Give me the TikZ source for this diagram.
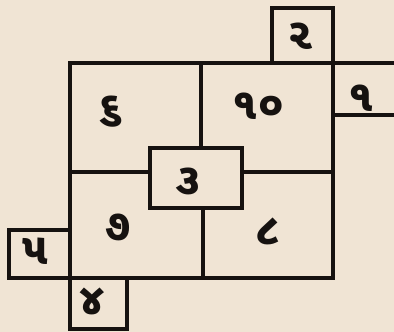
\documentclass[tikz,border=0pt]{standalone}
\usepackage{fontspec}
\newfontfamily\gujfont[Script=Gujarati]{Noto Sans Gujarati UI}
\definecolor{paper}{RGB}{240,228,212}
\definecolor{ink}{RGB}{22,18,16}
\begin{document}
\begin{tikzpicture}[x=1pt,y=-1pt,
  wall/.style={draw=ink,line width=3.2pt,line join=miter},
  num/.style={text=ink,font=\gujfont\bfseries\fontsize{44}{44}\selectfont,inner sep=0pt}]
\fill[paper] (0,0) rectangle (394,332);
\useasboundingbox (0,0) rectangle (394,332);
% main square
\draw[wall] (70,63) rectangle (333,278);
% top extension to the right edge and box 1
\draw[wall] (333,63) -- (394,63);
\draw[wall] (333,115) -- (394,115);
% box 2
\draw[wall] (272,63) -- (272,8) -- (333,8) -- (333,63);
% box 5
\draw[wall] (70,230) -- (9,230) -- (9,278) -- (70,278);
% box 4
\draw[wall] (70,278) -- (70,329) -- (127,329) -- (127,278);
% centre box 3
\draw[wall] (150,148) rectangle (242,208);
% dividers
\draw[wall] (201,63) -- (201,148);
\draw[wall] (70,172) -- (150,172);
\draw[wall] (242,172) -- (333,172);
\draw[wall] (203,208) -- (203,278);
% labels
\node[num] (n6) at (111,112) {૬};
\node[num] (n10) at (258,106) {૧૦};
\node[num] (n3) at (188,181) {૩};
\node[num] (n7) at (118,227) {૭};
\node[num] (n8) at (268,231) {૮};
\node[num] (n2) at (300,36) {૨};
\node[num] (n1) at (361,98) {૧};
\node[num] (n5) at (35,251) {૫};
\node[num] (n4) at (92,301) {૪};
\end{tikzpicture}
\end{document}
